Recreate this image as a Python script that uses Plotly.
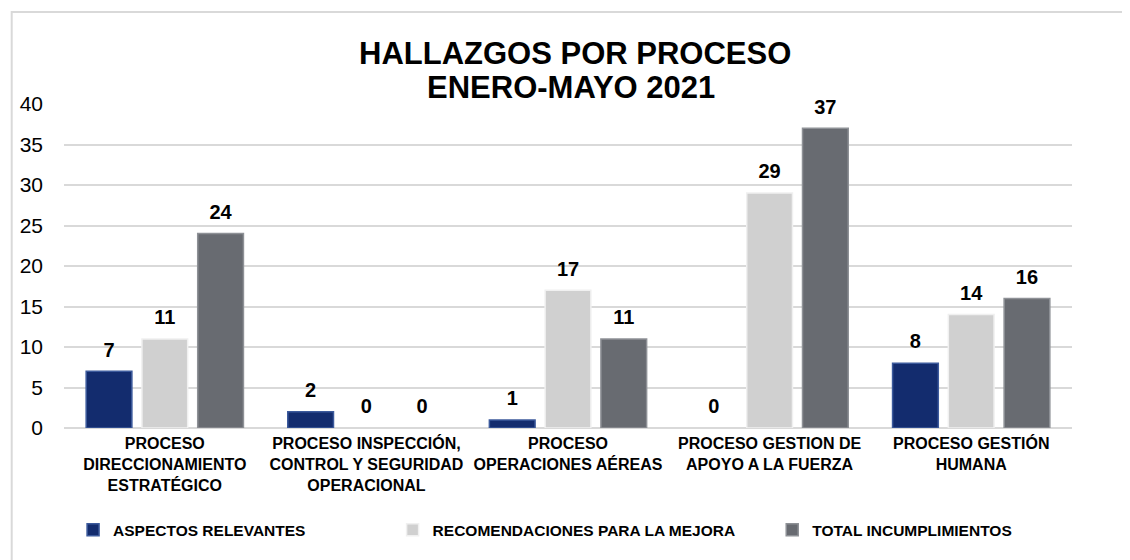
import plotly.graph_objects as go

categories = [
    "PROCESO<br>DIRECCIONAMIENTO<br>ESTRATÉGICO",
    "PROCESO INSPECCIÓN,<br>CONTROL Y SEGURIDAD<br>OPERACIONAL",
    "PROCESO<br>OPERACIONES AÉREAS",
    "PROCESO GESTION DE<br>APOYO A LA FUERZA",
    "PROCESO GESTIÓN<br>HUMANA",
]
aspectos = [7, 2, 1, 0, 8]
recomendaciones = [11, 0, 17, 29, 14]
total = [24, 0, 11, 37, 16]
series_names = ["ASPECTOS RELEVANTES", "RECOMENDACIONES PARA LA MEJORA", "TOTAL INCUMPLIMIENTOS"]
y_ticks = [0, 5, 10, 15, 20, 25, 30, 35, 40]

FONT = "Liberation Sans, Arial, sans-serif"
colors = ["#132C6E", "#D0D0D0", "#686B71"]
edges = ["#3C5A9C", "#F0F0F0", "#8E9196"]
series = [aspectos, recomendaciones, total]
legends = ["legend", "legend2", "legend3"]

fig = go.Figure()
for i, (name, vals) in enumerate(zip(series_names, series)):
    fig.add_trace(go.Bar(
        x=categories, y=vals, name=name, offsetgroup=str(i),
        marker=dict(color=colors[i],
                    line=dict(color=edges[i], width=[1.5 if v > 0 else 0 for v in vals])),
        legend=legends[i],
    ))
for i, vals in enumerate(series):
    fig.add_trace(go.Scatter(
        x=categories, y=vals, offsetgroup=str(i), mode="markers+text",
        text=[str(v) for v in vals], textposition="top center",
        textfont=dict(family=FONT, size=20, color="#000000", weight="bold"),
        marker=dict(size=14, color="rgba(0,0,0,0)"),
        cliponaxis=False, showlegend=False, hoverinfo="skip",
    ))

leg_common = dict(orientation="h", yanchor="middle", y=-0.315, xanchor="left",
                  font=dict(family=FONT, size=15.5, color="#000000", weight="bold"),
                  bgcolor="rgba(0,0,0,0)")
# the page body adds 8px around the figure, so the figure is 8px smaller
fig.update_layout(
    width=1122, height=552,
    margin=dict(l=52, r=58, t=96, b=132),
    paper_bgcolor="white", plot_bgcolor="white",
    barmode="group", bargap=0.17, bargroupgap=0.18,
    scattermode="group", scattergap=0.17,
    font=dict(family=FONT, color="#000000"),
    legend=dict(x=0.009, **leg_common),
    legend2=dict(x=0.326, **leg_common),
    legend3=dict(x=0.7026, **leg_common),
    xaxis=dict(tickfont=dict(family=FONT, size=16, color="#000000", weight="bold"),
               showline=False, showgrid=False, ticks="", ticklabelstandoff=4),
    yaxis=dict(range=[0, 40], tickvals=y_ticks, tickfont=dict(family=FONT, size=21, color="#000000"),
               showgrid=True, gridcolor="#D9D9D9", gridwidth=1.5, zeroline=True,
               zerolinecolor="#D9D9D9", zerolinewidth=1.5, ticklabelstandoff=20),
    showlegend=True,
)
fig.add_annotation(text="HALLAZGOS POR PROCESO", xref="paper", yref="paper",
                   x=(573 - 60) / 1012, y=(428 - 54) / 324, xanchor="center", yanchor="middle",
                   showarrow=False, font=dict(family=FONT, size=31, color="#000000", weight="bold"))
fig.add_annotation(text="ENERO-MAYO 2021", xref="paper", yref="paper",
                   x=(569 - 60) / 1012, y=(428 - 87) / 324, xanchor="center", yanchor="middle",
                   showarrow=False, font=dict(family=FONT, size=31, color="#000000", weight="bold"))
fig.add_shape(type="rect", xref="paper", yref="paper",
              x0=(7.5 - 60) / 1012, x1=(1140 - 60) / 1012,
              y0=(428 - 570) / 324, y1=(428 - 12) / 324,
              line=dict(color="#D9D9D9", width=2), fillcolor="rgba(0,0,0,0)", layer="below")

fig.write_html("out.html")
